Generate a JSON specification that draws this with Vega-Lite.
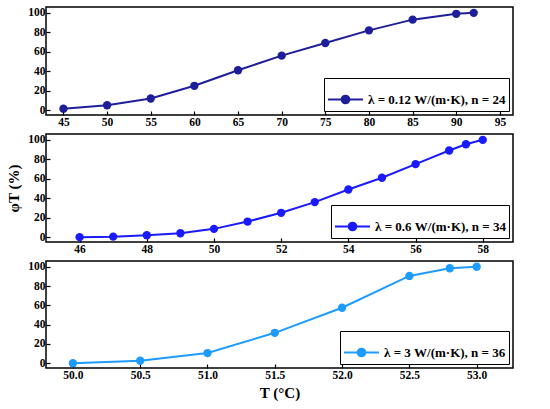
{
  "$schema": "https://vega.github.io/schema/vega-lite/v6.json",
  "background": "white",
  "padding": {"left": 6, "top": 6, "right": 4, "bottom": 4},
  "spacing": 4,
  "vconcat": [
    {
      "width": 467,
      "height": 108,
      "data": {"values": [
        {"T": 45, "phi": 1.5, "series": "λ = 0.12 W/(m·K), n = 24"},
        {"T": 50, "phi": 5, "series": "λ = 0.12 W/(m·K), n = 24"},
        {"T": 55, "phi": 12, "series": "λ = 0.12 W/(m·K), n = 24"},
        {"T": 60, "phi": 25, "series": "λ = 0.12 W/(m·K), n = 24"},
        {"T": 65, "phi": 41, "series": "λ = 0.12 W/(m·K), n = 24"},
        {"T": 70, "phi": 56, "series": "λ = 0.12 W/(m·K), n = 24"},
        {"T": 75, "phi": 69, "series": "λ = 0.12 W/(m·K), n = 24"},
        {"T": 80, "phi": 82, "series": "λ = 0.12 W/(m·K), n = 24"},
        {"T": 85, "phi": 93, "series": "λ = 0.12 W/(m·K), n = 24"},
        {"T": 90, "phi": 99, "series": "λ = 0.12 W/(m·K), n = 24"},
        {"T": 92, "phi": 100, "series": "λ = 0.12 W/(m·K), n = 24"}
      ]},
      "mark": {"type": "line", "strokeWidth": 2, "point": {"filled": true, "size": 70}},
      "encoding": {
        "x": {"field": "T", "type": "quantitative", "title": null,
              "scale": {"domain": [43, 96.5], "nice": false, "zero": false},
              "axis": {"values": [45, 50, 55, 60, 65, 70, 75, 80, 85, 90, 95]}},
        "y": {"field": "phi", "type": "quantitative", "title": null,
              "scale": {"domain": [-5, 106], "nice": false},
              "axis": {"values": [0, 20, 40, 60, 80, 100]}},
        "color": {"field": "series", "type": "nominal", "title": null,
                  "scale": {"range": ["#1e1e9a"]},
                  "legend": {"symbolFillColor": "#1e1e9a"}}
      }
    },
    {
      "width": 467,
      "height": 108,
      "data": {"values": [
        {"T": 46, "phi": 0, "series": "λ = 0.6 W/(m·K), n = 34"},
        {"T": 47, "phi": 0.5, "series": "λ = 0.6 W/(m·K), n = 34"},
        {"T": 48, "phi": 2, "series": "λ = 0.6 W/(m·K), n = 34"},
        {"T": 49, "phi": 4, "series": "λ = 0.6 W/(m·K), n = 34"},
        {"T": 50, "phi": 8.5, "series": "λ = 0.6 W/(m·K), n = 34"},
        {"T": 51, "phi": 16, "series": "λ = 0.6 W/(m·K), n = 34"},
        {"T": 52, "phi": 25, "series": "λ = 0.6 W/(m·K), n = 34"},
        {"T": 53, "phi": 36, "series": "λ = 0.6 W/(m·K), n = 34"},
        {"T": 54, "phi": 49, "series": "λ = 0.6 W/(m·K), n = 34"},
        {"T": 55, "phi": 61, "series": "λ = 0.6 W/(m·K), n = 34"},
        {"T": 56, "phi": 75, "series": "λ = 0.6 W/(m·K), n = 34"},
        {"T": 57, "phi": 89, "series": "λ = 0.6 W/(m·K), n = 34"},
        {"T": 57.5, "phi": 95.5, "series": "λ = 0.6 W/(m·K), n = 34"},
        {"T": 58, "phi": 100, "series": "λ = 0.6 W/(m·K), n = 34"}
      ]},
      "mark": {"type": "line", "strokeWidth": 2, "point": {"filled": true, "size": 70}},
      "encoding": {
        "x": {"field": "T", "type": "quantitative", "title": null,
              "scale": {"domain": [45, 58.9], "nice": false, "zero": false},
              "axis": {"values": [46, 48, 50, 52, 54, 56, 58]}},
        "y": {"field": "phi", "type": "quantitative", "title": "φT (%)",
              "scale": {"domain": [-5, 106], "nice": false},
              "axis": {"values": [0, 20, 40, 60, 80, 100]}},
        "color": {"field": "series", "type": "nominal", "title": null,
                  "scale": {"range": ["#1a1aff"]},
                  "legend": {"symbolFillColor": "#1a1aff"}}
      }
    },
    {
      "width": 467,
      "height": 107,
      "data": {"values": [
        {"T": 50.0, "phi": 0, "series": "λ = 3 W/(m·K), n = 36"},
        {"T": 50.5, "phi": 2.5, "series": "λ = 3 W/(m·K), n = 36"},
        {"T": 51.0, "phi": 10.5, "series": "λ = 3 W/(m·K), n = 36"},
        {"T": 51.5, "phi": 31.5, "series": "λ = 3 W/(m·K), n = 36"},
        {"T": 52.0, "phi": 57.5, "series": "λ = 3 W/(m·K), n = 36"},
        {"T": 52.5, "phi": 90.5, "series": "λ = 3 W/(m·K), n = 36"},
        {"T": 52.8, "phi": 98.5, "series": "λ = 3 W/(m·K), n = 36"},
        {"T": 53.0, "phi": 100, "series": "λ = 3 W/(m·K), n = 36"}
      ]},
      "mark": {"type": "line", "strokeWidth": 2, "point": {"filled": true, "size": 70}},
      "encoding": {
        "x": {"field": "T", "type": "quantitative", "title": "T (°C)",
              "scale": {"domain": [49.8, 53.27], "nice": false, "zero": false},
              "axis": {"values": [50, 50.5, 51, 51.5, 52, 52.5, 53], "format": ".1f"}},
        "y": {"field": "phi", "type": "quantitative", "title": null,
              "scale": {"domain": [-5, 106], "nice": false},
              "axis": {"values": [0, 20, 40, 60, 80, 100]}},
        "color": {"field": "series", "type": "nominal", "title": null,
                  "scale": {"range": ["#1e9bff"]},
                  "legend": {"symbolFillColor": "#1e9bff"}}
      }
    }
  ],
  "resolve": {"scale": {"color": "independent"}, "legend": {"color": "independent"}},
  "config": {
    "font": "Liberation Serif, Times New Roman, serif",
    "view": {"stroke": "black", "strokeWidth": 1.5},
    "axis": {
      "grid": false,
      "domain": false,
      "tickColor": "black",
      "tickSize": -4,
      "tickWidth": 1.2,
      "labelFont": "Liberation Serif, Times New Roman, serif",
      "labelFontWeight": "bold",
      "labelFontSize": 11.5,
      "labelColor": "black",
      "labelPadding": 5,
      "titleFont": "Liberation Serif, Times New Roman, serif",
      "titleFontWeight": "bold",
      "titleFontSize": 15,
      "titleColor": "black"
    },
    "axisY": {"titlePadding": 6},
    "axisX": {"titlePadding": 5},
    "legend": {
      "orient": "bottom-right",
      "offset": 4,
      "fillColor": "white",
      "strokeColor": "black",
      "padding": 3,
      "labelFont": "Liberation Serif, Times New Roman, serif",
      "labelFontWeight": "bold",
      "labelFontSize": 13,
      "labelColor": "black",
      "labelOffset": 4,
      "symbolType": "M-1,0L1,0M-0.22,0A0.22,0.22,0,1,0,0.22,0A0.22,0.22,0,1,0,-0.22,0Z",
      "symbolSize": 1225,
      "symbolStrokeWidth": 2
    }
  }
}
